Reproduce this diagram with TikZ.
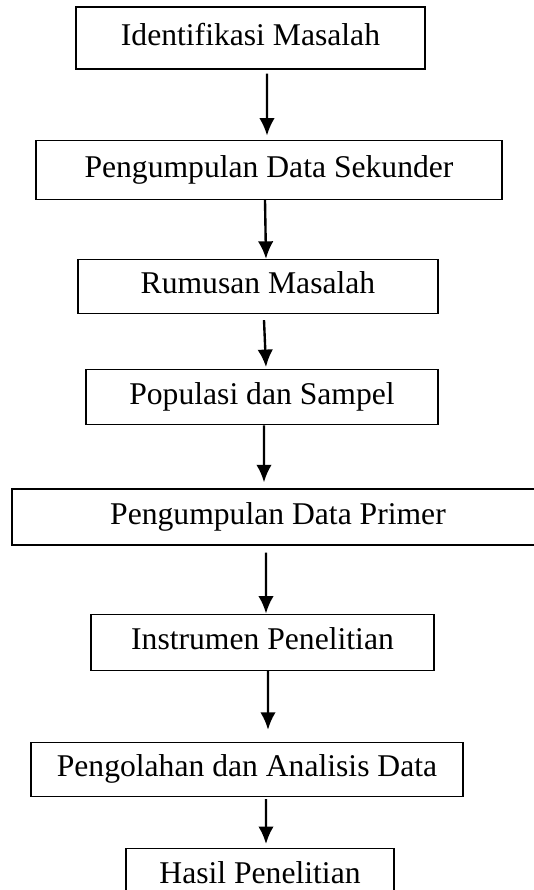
\documentclass[tikz,border=0pt]{standalone}
\usepackage{fontspec}
\setmainfont{Liberation Serif}
\usepackage{tikz}
\usetikzlibrary{arrows.meta,positioning}
\tikzset{
  >={Latex[length=3.5mm, width=3.1mm]},
  flow/.style={->, line width=1.35pt, draw=black},
  stepbox/.style={
    draw=black,
    line width=0.7pt,
    fill=white,
    align=center,
    inner sep=2pt,
    minimum height=1.1cm,
    text height=0.44cm,
    text depth=0.14cm,
    font=\fontsize{18}{22}\selectfont
  }
}

\begin{document}
\begin{tikzpicture}[node distance=1.2cm]
  \useasboundingbox (0,0) rectangle (10.68,-17.8);

  \node[stepbox, minimum width=6.98cm, minimum height=1.24cm] (ident) at (5.01,-0.76) {Identifikasi Masalah};
  \node[stepbox, below=1.4cm of ident, xshift=0.37cm, minimum width=9.32cm, minimum height=1.18cm] (sekunder) {Pengumpulan Data Sekunder};
  \node[stepbox, below=1.18cm of sekunder, xshift=-0.22cm, minimum width=7.2cm, minimum height=1.08cm] (rumusan) {Rumusan Masalah};
  \node[stepbox, below=1.1cm of rumusan, xshift=0.08cm, minimum width=7.04cm] (populasi) {Populasi dan Sampel};
  \node[stepbox, below=1.26cm of populasi, xshift=0.32cm, minimum width=10.64cm, minimum height=1.12cm] (primer) {Pengumpulan Data Primer};
  \node[stepbox, below=1.36cm of primer, xshift=-0.31cm, minimum width=6.86cm, minimum height=1.12cm] (instrumen) {Instrumen Penelitian};
  \node[stepbox, below=1.42cm of instrumen, xshift=-0.31cm, minimum width=8.64cm, minimum height=1.08cm] (analisis) {Pengolahan dan Analisis Data};
  \node[stepbox, below=1.02cm of analisis, xshift=0.26cm, minimum width=5.36cm, minimum height=1.08cm] (hasil) {Hasil Penelitian};

  \draw[flow] ([xshift=0.33cm, yshift=-0.08cm]ident.south) -- ([xshift=-0.04cm, yshift=0.08cm]sekunder.north);
  \draw[flow] ([xshift=-0.08cm]sekunder.south) -- ([xshift=0.16cm]rumusan.north);
  \draw[flow] ([xshift=0.12cm, yshift=-0.12cm]rumusan.south) -- ([xshift=0.08cm, yshift=0.04cm]populasi.north);
  \draw[flow] ([xshift=0.04cm]populasi.south) -- ([xshift=-0.28cm, yshift=0.12cm]primer.north);
  \draw[flow] ([xshift=-0.24cm, yshift=-0.14cm]primer.south) -- ([xshift=0.07cm]instrumen.north);
  \draw[flow] ([xshift=0.11cm]instrumen.south) -- ([xshift=0.42cm, yshift=0.24cm]analisis.north);
  \draw[flow] ([xshift=0.38cm, yshift=-0.04cm]analisis.south) -- ([xshift=0.12cm, yshift=0.08cm]hasil.north);

\end{tikzpicture}
\end{document}
